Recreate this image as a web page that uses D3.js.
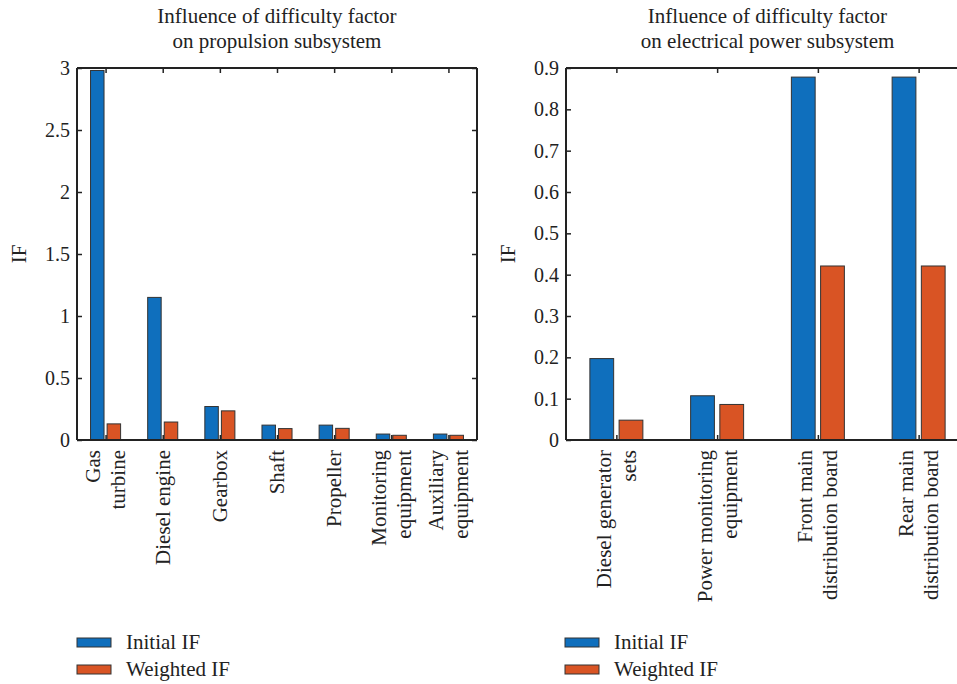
<!DOCTYPE html>
<html>
<head>
<meta charset="utf-8">
<script src="https://cdn.jsdelivr.net/npm/d3@7"></script>
<style>
  html, body { margin: 0; padding: 0; background: #fff; }
  svg text { font-family: "Liberation Serif", "DejaVu Serif", serif; fill: #222; }
</style>
</head>
<body>
<svg id="chart" width="957" height="684"></svg>
<script>
// Propulsion subsystem
const propCategories = [["Gas", "turbine"], ["Diesel engine"], ["Gearbox"], ["Shaft"], ["Propeller"], ["Monitoring", "equipment"], ["Auxiliary", "equipment"]];
const propInitial  = [2.98, 1.15, 0.27, 0.12, 0.12, 0.048, 0.048];
const propWeighted = [0.13, 0.145, 0.235, 0.092, 0.094, 0.038, 0.038];
const propTicks = [0, 0.5, 1, 1.5, 2, 2.5, 3];
const propTickLabels = ["0", "0.5", "1", "1.5", "2", "2.5", "3"];

// Electrical power subsystem
const elecCategories = [["Diesel generator", "sets"], ["Power monitoring", "equipment"], ["Front main", "distribution board"], ["Rear main", "distribution board"]];
const elecInitial  = [0.197, 0.107, 0.878, 0.878];
const elecWeighted = [0.048, 0.086, 0.421, 0.421];
const elecTicks = [0, 0.1, 0.2, 0.3, 0.4, 0.5, 0.6, 0.7, 0.8, 0.9];
const elecTickLabels = ["0", "0.1", "0.2", "0.3", "0.4", "0.5", "0.6", "0.7", "0.8", "0.9"];

const seriesNames = ["Initial IF", "Weighted IF"];
const seriesColors = ["#0f6fbd", "#d95424"];

const svg = d3.select("#chart");
const FS = 21;       // label / title size
const TICK_FS = 20;  // tick label size

function drawPanel(opts) {
  const { left, right, top, bottom, categories, initial, weighted, ticks, tickLabels, yMax, titleLines, drawRightAxis, legendX } = opts;
  const g = svg.append("g");
  const n = categories.length;

  const x = d3.scaleLinear().domain([0.5, n + 0.5]).range([left, right]);
  const step = x(2) - x(1);
  const y = d3.scaleLinear().domain([0, yMax]).range([bottom, top]);

  const barW = step * 0.236;
  const off = step * 0.145;
  const series = [initial, weighted];

  // bars
  series.forEach((vals, s) => {
    g.selectAll(null)
      .data(vals)
      .enter()
      .append("rect")
      .attr("x", (d, i) => x(i + 1) + (s === 0 ? -off : off) - barW / 2)
      .attr("y", d => y(d))
      .attr("width", barW)
      .attr("height", d => y(0) - y(d))
      .attr("fill", seriesColors[s])
      .attr("stroke", "#333")
      .attr("stroke-width", 1);
  });

  const axisColor = "#222";
  const tickLen = 5;

  // left y axis with inward ticks
  const yAxis = d3.axisLeft(y).tickValues(ticks).tickFormat((d, i) => tickLabels[i]).tickSize(-tickLen).tickPadding(7);
  const ya = g.append("g").attr("transform", `translate(${left},0)`).call(yAxis);
  ya.select(".domain").remove();
  ya.selectAll("line").attr("stroke", axisColor).attr("stroke-width", 1.5);
  ya.selectAll("text").attr("font-size", TICK_FS).attr("font-family", "Liberation Serif").attr("fill", "#222");

  if (drawRightAxis) {
    const yr = g.append("g").attr("transform", `translate(${right},0)`)
      .call(d3.axisRight(y).tickValues(ticks).tickFormat("").tickSize(-tickLen));
    yr.select(".domain").remove();
    yr.selectAll("line").attr("stroke", axisColor).attr("stroke-width", 1.5);
  }

  // top ticks
  const catTicks = d3.range(1, n + 1);
  const xt = g.append("g").attr("transform", `translate(0,${top})`)
    .call(d3.axisTop(x).tickValues(catTicks).tickFormat("").tickSize(-tickLen));
  xt.select(".domain").remove();
  xt.selectAll("line").attr("stroke", axisColor).attr("stroke-width", 1.5);

  // bottom ticks
  const xb = g.append("g").attr("transform", `translate(0,${bottom})`)
    .call(d3.axisBottom(x).tickValues(catTicks).tickFormat("").tickSize(-tickLen));
  xb.select(".domain").remove();
  xb.selectAll("line").attr("stroke", axisColor).attr("stroke-width", 1.5);

  // axis frame
  g.append("line").attr("x1", left).attr("x2", left).attr("y1", top).attr("y2", bottom)
    .attr("stroke", axisColor).attr("stroke-width", 2);
  g.append("line").attr("x1", left).attr("x2", right).attr("y1", bottom).attr("y2", bottom)
    .attr("stroke", axisColor).attr("stroke-width", 2);
  g.append("line").attr("x1", left).attr("x2", right).attr("y1", top).attr("y2", top)
    .attr("stroke", axisColor).attr("stroke-width", 2);
  if (drawRightAxis) {
    g.append("line").attr("x1", right).attr("x2", right).attr("y1", top).attr("y2", bottom)
      .attr("stroke", axisColor).attr("stroke-width", 2);
  }

  // rotated category labels
  const lineGap = 25;
  categories.forEach((lines, i) => {
    const cx = x(i + 1);
    lines.forEach((txt, j) => {
      const lx = cx + (j - (lines.length - 1) / 2) * lineGap + 7;
      g.append("text")
        .attr("transform", `translate(${lx},${bottom + 10}) rotate(-90)`)
        .attr("text-anchor", "end")
        .attr("font-size", FS)
        .text(txt);
    });
  });

  // y label
  g.append("text")
    .attr("transform", `translate(${opts.yLabelX},${(top + bottom) / 2}) rotate(-90)`)
    .attr("text-anchor", "middle")
    .attr("font-size", FS)
    .text("IF");

  // title
  const cxTitle = (left + right) / 2;
  titleLines.forEach((t, j) => {
    g.append("text")
      .attr("x", cxTitle)
      .attr("y", 23 + j * 25)
      .attr("text-anchor", "middle")
      .attr("font-size", FS)
      .text(t);
  });

  // legend
  seriesNames.forEach((name, s) => {
    const ly = 638 + s * 27;
    g.append("rect")
      .attr("x", legendX).attr("y", ly)
      .attr("width", 34).attr("height", 9)
      .attr("fill", seriesColors[s]).attr("stroke", "#333").attr("stroke-width", 1);
    g.append("text")
      .attr("x", legendX + 49).attr("y", ly + 11)
      .attr("font-size", FS)
      .text(name);
  });
}

drawPanel({
  left: 77, right: 477, top: 68, bottom: 440,
  categories: propCategories, initial: propInitial, weighted: propWeighted,
  ticks: propTicks, tickLabels: propTickLabels, yMax: 3,
  titleLines: ["Influence of difficulty factor", "on propulsion subsystem"],
  drawRightAxis: true, legendX: 77, yLabelX: 26
});

drawPanel({
  left: 566, right: 969, top: 68, bottom: 440,
  categories: elecCategories, initial: elecInitial, weighted: elecWeighted,
  ticks: elecTicks, tickLabels: elecTickLabels, yMax: 0.9,
  titleLines: ["Influence of difficulty factor", "on electrical power subsystem"],
  drawRightAxis: false, legendX: 565, yLabelX: 515
});
</script>
</body>
</html>
